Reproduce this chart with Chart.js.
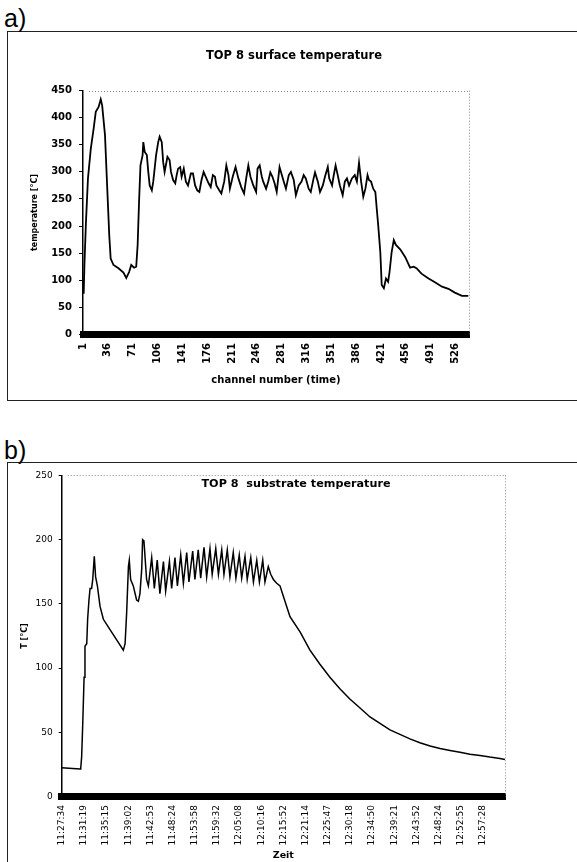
<!DOCTYPE html>
<html>
<head>
<meta charset="utf-8">
<script src="https://cdn.jsdelivr.net/npm/chart.js@4.4.1/dist/chart.umd.min.js"></script>
<style>
  html, body { margin: 0; padding: 0; background: #fff; width: 577px; height: 862px; overflow: hidden; }
  .frame { position: absolute; border: 1px solid #222; }
  #frameA { left: 7px; top: 31px; width: 580px; height: 368px; border-right: none; }
  #frameB { left: 7px; top: 462px; width: 580px; height: 420px; border-right: none; border-bottom: none; }
  .tag { position: absolute; left: 4px; font: 25px "Liberation Sans", Arial, sans-serif; line-height: 1; color: #000; }
  canvas { position: absolute; left: 0; }
</style>
</head>
<body>
<div class="frame" id="frameA"></div>
<div class="frame" id="frameB"></div>
<div class="tag" style="top:6px">a)</div>
<div class="tag" style="top:438px">b)</div>
<canvas id="chartA" width="577" height="400" style="top:0"></canvas>
<canvas id="chartB" width="577" height="422" style="top:440px"></canvas>
<script>
// a) surface temperature, channel number vs. degC (read off the scan)
const aChannel = [1, 2, 3, 5, 8, 12, 16, 19, 23, 26, 28, 32, 35, 38, 40, 44, 51, 58, 62, 66,
  69, 73, 76, 78, 80, 82, 85, 86, 88, 91, 93, 95, 98, 100, 104, 107, 109, 112, 114, 116,
  120, 123, 125, 128, 131, 133, 135, 138, 140, 143, 146, 149, 153, 156, 159, 162, 165, 168, 171, 174,
  178, 181, 184, 187, 189, 193, 196, 200, 203, 206, 208, 212, 216, 220, 224, 228, 231, 234, 237, 241,
  245, 247, 250, 253, 255, 259, 262, 265, 268, 271, 274, 278, 280, 284, 287, 291, 294, 298, 301, 305,
  309, 312, 315, 319, 322, 326, 328, 332, 335, 339, 342, 346, 348, 352, 354, 357, 360, 363, 367, 370,
  373, 376, 380, 384, 387, 390, 393, 396, 399, 402, 404, 407, 410, 413, 415, 417, 420, 422, 425, 428,
  431, 433, 436, 439, 442, 448, 455, 462, 467, 471, 478, 488, 497, 507, 516, 525, 535, 544];
const aTemp = [100, 75, 128, 202, 288, 343, 380, 411, 420, 434, 423, 368, 275, 183, 140, 128, 122, 114, 104, 115,
  128, 123, 125, 165, 245, 312, 331, 355, 337, 331, 300, 275, 266, 282, 331, 355, 365, 355, 318, 300,
  328, 322, 300, 285, 279, 294, 306, 309, 291, 306, 282, 275, 297, 297, 275, 266, 263, 285, 300, 291,
  279, 272, 294, 291, 275, 266, 260, 282, 312, 294, 269, 291, 309, 288, 272, 260, 288, 312, 291, 275,
  263, 306, 312, 291, 282, 269, 282, 299, 291, 279, 263, 309, 300, 282, 269, 294, 300, 285, 257, 275,
  282, 294, 288, 269, 263, 288, 299, 282, 263, 275, 291, 309, 288, 275, 291, 312, 294, 275, 257, 282,
  288, 275, 288, 294, 282, 317, 282, 254, 269, 294, 285, 282, 269, 263, 232, 202, 152, 91, 85, 103,
  97, 115, 152, 174, 165, 157, 143, 123, 125, 122, 112, 103, 96, 88, 84, 77, 71, 71];
const aTickLabels = [1, 36, 71, 106, 141, 176, 211, 246, 281, 316, 351, 386, 421, 456, 491, 526];

// b) substrate temperature; x is sample index, 10 samples per time label
const bSample = [0, 8.3, 8.6, 9.0, 9.5, 10.1, 10.5, 11.3, 11.7, 12.3, 12.8, 13.5, 14.0, 14.7, 15.3, 16.1, 17.3, 18.8, 21.8, 24.8,
  27.8, 28.6, 29.3, 30.1, 30.5, 31.1, 32.3, 33.8, 34.6, 35.3, 36.1, 36.5, 37.1, 37.7, 38.3, 39.1,
  40.6, 41.8, 43.1, 44.3, 45.9, 46.9, 48.6, 49.6, 51.1, 52.2, 53.7, 54.9, 56.4, 57.4, 59.1, 60.1, 61.6, 62.7,
  64.2, 65.4, 66.9, 67.9, 69.5, 70.7, 72.2, 73.2, 74.7, 75.9, 77.4, 78.6, 80.1, 81.2, 82.7, 83.7, 85.3, 86.5,
  88.0, 89.2, 90.7, 91.7, 93.2, 94.3, 95.5, 97.0, 98.5, 100.0, 101.5, 103.0,
  107.6, 112.0, 116.5, 121.0, 125.5, 130.0, 134.6, 139.1, 143.6, 148.1, 152.6, 157.1, 161.6, 166.2, 170.7,
  175.2, 179.7, 184.2, 188.7, 193.2, 197.7, 200];
const bTemp = [22.5, 21.5, 22.5, 31, 57, 93, 117, 119, 138, 153, 162, 162, 169, 187, 171, 164, 148, 138, 130, 122,
  114, 119, 143, 179, 184, 169, 164, 153, 152, 158, 177, 200, 199, 184, 169, 164,
  186, 162, 184, 158, 183, 160, 183, 162, 186, 164, 188, 166, 190, 167, 191, 169, 192, 170,
  194, 171, 193, 173, 193, 173, 192, 173, 192, 171, 190, 170, 188, 170, 187, 169, 186, 167,
  184, 167, 184, 167, 179, 173, 169, 166, 164, 156, 148, 140,
  128, 114, 103, 93, 84, 76, 69, 62, 57, 52, 48.5, 45, 42, 39.5, 37.5,
  36, 34.5, 33, 32, 30.8, 29.8, 29];
const bTickLabels = ['11:27:34', '11:31:19', '11:35:15', '11:39:02', '11:42:53', '11:48:24', '11:53:58',
  '11:59:32', '12:05:08', '12:10:16', '12:15:52', '12:21:14', '12:25:47', '12:30:18', '12:34:50',
  '12:39:21', '12:43:52', '12:48:24', '12:52:55', '12:57:28'];

const FONT = 'DejaVu Sans';
Chart.defaults.color = '#000';
Chart.defaults.font.family = FONT;

// dotted grey frame on top and right of the plot area, like the old Excel plot
const dottedFrame = {
  id: 'dottedFrame',
  beforeDatasetsDraw(chart) {
    const { ctx, chartArea: a } = chart;
    ctx.save();
    ctx.strokeStyle = '#888';
    ctx.lineWidth = 1;
    ctx.setLineDash([1, 2]);
    ctx.beginPath();
    ctx.moveTo(a.left + 6, Math.round(a.top) + 0.5);
    ctx.lineTo(a.right, Math.round(a.top) + 0.5);
    ctx.moveTo(Math.round(a.right) + 0.5, a.top);
    ctx.lineTo(Math.round(a.right) + 0.5, a.bottom);
    ctx.stroke();
    ctx.restore();
  }
};

const spacer = w => ({
  position: 'right',
  afterFit: s => { s.width = w; },
  ticks: { display: false },
  grid: { display: false },
  border: { display: false }
});

new Chart(document.getElementById('chartA'), {
  type: 'line',
  data: {
    datasets: [{
      data: aChannel.map((c, i) => ({ x: c, y: aTemp[i] })),
      borderColor: '#000',
      borderWidth: 1.8,
      pointRadius: 0,
      tension: 0
    }]
  },
  options: {
    responsive: false,
    animation: false,
    layout: { padding: { left: 11, right: 0, top: 0, bottom: 0 } },
    plugins: {
      legend: { display: false },
      tooltip: { enabled: false },
      title: {
        display: true,
        text: 'TOP 8 surface temperature',
        font: { size: 11.5, weight: 'bold' },
        padding: { top: 49.1, bottom: 27.8 }
      }
    },
    scales: {
      x: {
        type: 'linear',
        min: 1,
        max: 545,
        afterBuildTicks: s => { s.ticks = aTickLabels.map(v => ({ value: v })); },
        afterFit: s => { s.height = 65.7; },
        grid: { drawOnChartArea: false, drawTicks: false },
        border: { color: '#000', width: 7 },
        ticks: { autoSkip: false, minRotation: 90, maxRotation: 90, padding: 8.7, font: { size: 10, weight: 'bold' } },
        title: { display: true, text: 'channel number (time)', font: { size: 10, weight: 'bold' }, padding: { top: 0, bottom: 14 } }
      },
      y: {
        min: 0,
        max: 450,
        afterFit: s => { s.width = 72; },
        ticks: { stepSize: 50, padding: 7, font: { size: 10, weight: 'bold' } },
        grid: { drawOnChartArea: false, tickLength: 4, color: '#000' },
        border: { color: '#000', width: 1.5 },
        title: { display: true, text: 'temperature [°C]', font: { size: 8, weight: 'bold' }, padding: { top: 19.2, bottom: 0 } }
      },
      yPad: spacer(108)
    }
  },
  plugins: [dottedFrame]
});

new Chart(document.getElementById('chartB'), {
  type: 'line',
  data: {
    datasets: [{
      data: bSample.map((s, i) => ({ x: s, y: bTemp[i] })),
      borderColor: '#000',
      borderWidth: 1.5,
      pointRadius: 0,
      tension: 0
    }]
  },
  options: {
    responsive: false,
    animation: false,
    layout: { padding: { left: 15, right: 0, top: 0, bottom: 0 } },
    plugins: {
      legend: { display: false },
      tooltip: { enabled: false },
      title: {
        display: true,
        text: 'TOP 8  substrate temperature',
        font: { size: 11.2, weight: 'bold' },
        padding: { top: 37.1, bottom: -15.2 }
      }
    },
    scales: {
      x: {
        type: 'linear',
        min: 0,
        max: 200,
        afterBuildTicks: s => { s.ticks = bTickLabels.map((_, i) => ({ value: i * 10 })); },
        afterFit: s => { s.height = 65.3; },
        grid: { drawOnChartArea: false, drawTicks: false },
        border: { color: '#000', width: 7 },
        ticks: {
          autoSkip: false, minRotation: 90, maxRotation: 90, padding: 8.3,
          font: { size: 9 },
          callback: v => bTickLabels[Math.round(v / 10)]
        },
        title: { display: true, text: 'Zeit', font: { size: 9.5, weight: 'bold' }, padding: { top: 0, bottom: 0.3 } }
      },
      y: {
        min: 0,
        max: 250,
        afterFit: s => { s.width = 46.7; },
        ticks: { stepSize: 50, padding: 6, font: { size: 9 } },
        grid: { drawOnChartArea: false, tickLength: 3, color: '#000' },
        border: { color: '#000', width: 1.5 },
        title: { display: true, text: 'T [°C]', font: { size: 8, weight: 'bold' }, padding: { top: 4.7, bottom: 0 } }
      },
      yPad: spacer(72)
    }
  },
  plugins: [dottedFrame]
});
</script>
</body>
</html>
